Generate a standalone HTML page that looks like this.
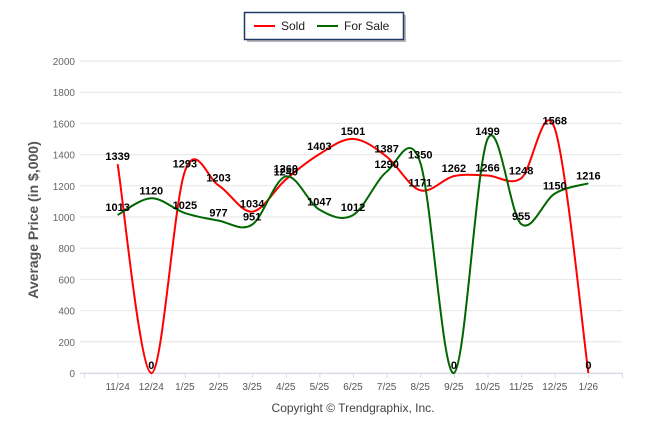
<!DOCTYPE html>
<html><head><meta charset="utf-8"><style>
body{margin:0;background:#fff;font-family:"Liberation Sans",Arial,sans-serif}
svg{display:block}
</style></head><body>
<svg id="chart" width="646" height="434">
<g id="grid"></g>
<g id="axes"></g>
<g id="series"></g>
<g id="labels"></g>
<text x="38" y="220" transform="rotate(-90 38 220)" text-anchor="middle" font-size="14" font-weight="bold" fill="#555">Average Price (in $,000)</text>
<text x="353" y="412" text-anchor="middle" font-size="12" fill="#444">Copyright © Trendgraphix, Inc.</text>
<g>
<rect x="247" y="15" width="159" height="27" fill="#888" opacity="0.6"/>
<rect x="244.5" y="12.5" width="159" height="27" fill="#fff" stroke="#1f3a66" stroke-width="1.5"/>
<g><line x1="254" y1="26" x2="275" y2="26" stroke="#f00" stroke-width="2"/><text x="281" y="30" font-size="12" fill="#222">Sold</text></g>
<g><line x1="317" y1="26" x2="338" y2="26" stroke="#060" stroke-width="2"/><text x="344" y="30" font-size="12" fill="#222">For Sale</text></g>
</g>
</svg>
<script>
const categories=["11/24","12/24","1/25","2/25","3/25","4/25","5/25","6/25","7/25","8/25","9/25","10/25","11/25","12/25","1/26"];
const soldValues=[1339,0,1293,1203,1034,1240,1403,1501,1387,1171,1262,1266,1248,1568,0];
const forSaleValues=[1013,1120,1025,977,951,1260,1047,1012,1290,1350,0,1499,955,1150,1216];
const yTicks=[0,200,400,600,800,1000,1200,1400,1600,1800,2000];
const NS="http://www.w3.org/2000/svg";
const X0=84,X1=622,Y0=373,Y1=61;
function xs(i){return X0+(i+1)*(X1-X0)/(categories.length+1);}
function ys(v){return Y0-v*(Y0-Y1)/2000;}
function mk(t,a,p){const e=document.createElementNS(NS,t);for(const k in a)e.setAttribute(k,a[k]);p.appendChild(e);return e;}
const grid=document.getElementById('grid'),axes=document.getElementById('axes');
yTicks.forEach(v=>{
 const l=mk('line',{x1:80,x2:X1,y1:ys(v),y2:ys(v),stroke:'#e6e6e6','stroke-width':1},grid);
 
 
 const t=mk('text',{x:75,y:ys(v)+4,'text-anchor':'end','font-size':10,fill:'#666'},axes);
 t.textContent=v;
 
 
});
mk('line',{x1:80,x2:X1,y1:Y0+0.5,y2:Y0+0.5,stroke:'#d8d8e8'},axes);
for(let i=-1;i<=categories.length;i++){mk('line',{x1:xs(i)+0.5,x2:xs(i)+0.5,y1:Y0,y2:Y0+5,stroke:'#d8d8e8'},axes);}
categories.forEach((c,i)=>{
 const t=mk('text',{x:xs(i),y:Y0+17,'text-anchor':'middle','font-size':10,fill:'#555'},axes);
 t.textContent=c;
 
 
});
function spline(vals){
 const p=vals.map((v,i)=>[xs(i),ys(v)]);
 let d='M'+p[0][0]+' '+p[0][1];
 const n=p.length;
 for(let i=0;i<n-1;i++){
  const p0=p[Math.max(0,i-1)],p1=p[i],p2=p[i+1],p3=p[Math.min(n-1,i+2)];
  const c1=[p1[0]+(p2[0]-p0[0])/6,p1[1]+(p2[1]-p0[1])/6];
  const c2=[p2[0]-(p3[0]-p1[0])/6,p2[1]-(p3[1]-p1[1])/6];
  d+=' C'+c1[0]+' '+c1[1]+' '+c2[0]+' '+c2[1]+' '+p2[0]+' '+p2[1];
 }
 return d;
}
const series=document.getElementById('series'),labels=document.getElementById('labels');
[[soldValues,'#ff0000','sold-line'],[forSaleValues,'#006600','for-sale-line']].forEach(([vals,col,name])=>{
 const pth=mk('path',{d:spline(vals),fill:'none',stroke:col,'stroke-width':2},series);
 
 
});
[soldValues,forSaleValues].forEach((vals,si)=>{
 vals.forEach((v,i)=>{
  const t=mk('text',{x:xs(i),y:ys(v)-4,'text-anchor':'middle','font-size':11,'font-weight':'bold',fill:'#000'},labels);
  t.textContent=v;
  
  
 });
});
</script>
</body></html>
